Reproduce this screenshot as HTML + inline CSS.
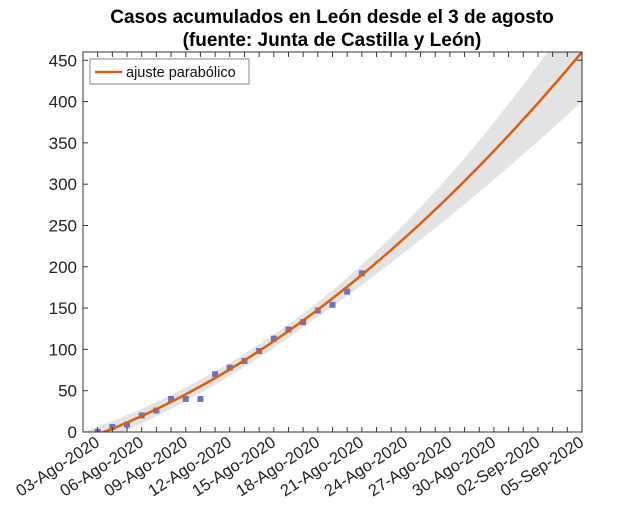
<!DOCTYPE html>
<html><head><meta charset="utf-8"><style>
body{margin:0;background:#fff;}
svg text{font-family:"Liberation Sans",sans-serif;}
</style></head><body>
<svg id="chart" width="642" height="506" xmlns="http://www.w3.org/2000/svg">
<text x="332" y="23" text-anchor="middle" font-size="19" font-weight="bold">Casos acumulados en León desde el 3 de agosto</text>
<text x="332" y="46" text-anchor="middle" font-size="19" font-weight="bold">(fuente: Junta de Castilla y León)</text>
<defs><clipPath id="clip"><rect x="83" y="52" width="499" height="380"/></clipPath></defs>
<g id="plot"></g>
</svg>
<script>
const days = [0,1,2,3,4,5,6,7,8,9,10,11,12,13,14,15,16,17,18];
const cases = [0,6,9,20,26,40,40,40,70,78,86,98,113,124,133,147,154,170,192];
const fitCoef = [-3, 6.78, 0.2197];
const bandCoef = [8, 0.118, 0.02];
const yTicks = [0,50,100,150,200,250,300,350,400,450];
const xLabelDays = [0,3,6,9,12,15,18,21,24,27,30,33];
const xLabels = ["03-Ago-2020","06-Ago-2020","09-Ago-2020","12-Ago-2020","15-Ago-2020","18-Ago-2020","21-Ago-2020","24-Ago-2020","27-Ago-2020","30-Ago-2020","02-Sep-2020","05-Sep-2020"];
const L=83,R=582,T=52,B=432, xmin=-1,xmax=33,ymin=0,ymax=460;
const X=d=>L+(d-xmin)/(xmax-xmin)*(R-L);
const Y=v=>B-(v-ymin)/(ymax-ymin)*(B-T);
const fit=d=>fitCoef[0]+fitCoef[1]*d+fitCoef[2]*d*d;
const band=d=>d>12?bandCoef[0]+bandCoef[1]*(d-12)*(d-12):bandCoef[0]+bandCoef[2]*(d-9)*(d-9);
const NS="http://www.w3.org/2000/svg";
const g=document.getElementById('plot');
function mk(t,a){const e=document.createElementNS(NS,t);for(const k in a)e.setAttribute(k,a[k]);g.appendChild(e);return e;}
let up=[],lo=[];
for(let d=xmin;d<=xmax+0.001;d+=0.25){up.push(X(d).toFixed(1)+','+Y(fit(d)+band(d)).toFixed(1));lo.unshift(X(d).toFixed(1)+','+Y(fit(d)-band(d)).toFixed(1));}
const bd=mk('polygon',{points:up.concat(lo).join(' '),fill:'#e3e3e3','clip-path':'url(#clip)'});


days.forEach((d,i)=>{const r=mk('rect',{x:X(d)-3,y:Y(cases[i])-3,width:6,height:6,fill:'#7070c0','clip-path':'url(#clip)'});

});
let pts=[];for(let d=xmin;d<=xmax+0.001;d+=0.25)pts.push(X(d).toFixed(1)+','+Y(fit(d)).toFixed(1));
const fl=mk('polyline',{points:pts.join(' '),fill:'none',stroke:'#d95f0e','stroke-width':2.5,'clip-path':'url(#clip)'});


const bx=mk('rect',{x:L,y:T,width:R-L,height:B-T,fill:'none',stroke:'#333','stroke-width':1});


yTicks.forEach(v=>{mk('line',{x1:L,x2:L+5,y1:Y(v),y2:Y(v),stroke:'#333'});mk('line',{x1:R,x2:R-5,y1:Y(v),y2:Y(v),stroke:'#333'});
const t=mk('text',{x:L-6,y:Y(v)+6,'text-anchor':'end','font-size':17,fill:'#222'});t.textContent=v;

});
for(let d=xmin;d<=xmax;d++){mk('line',{x1:X(d),x2:X(d),y1:B,y2:B-5,stroke:'#333'});mk('line',{x1:X(d),x2:X(d),y1:T,y2:T+5,stroke:'#333'});}
xLabelDays.forEach((d,i)=>{const t=mk('text',{x:X(d)+3,y:B+13,'text-anchor':'end','font-size':16.5,fill:'#222',transform:`rotate(-33 ${X(d)+3} ${B+13})`});t.textContent=xLabels[i];

});
const lg=mk('rect',{x:90,y:59,width:159,height:25,fill:'#fff',stroke:'#888'});


mk('line',{x1:95,x2:122,y1:72,y2:72,stroke:'#d95f0e','stroke-width':2.5});
const lt=mk('text',{x:126,y:77,'font-size':14.5,fill:'#111'});lt.textContent='ajuste parabólico';


</script>
</body></html>
